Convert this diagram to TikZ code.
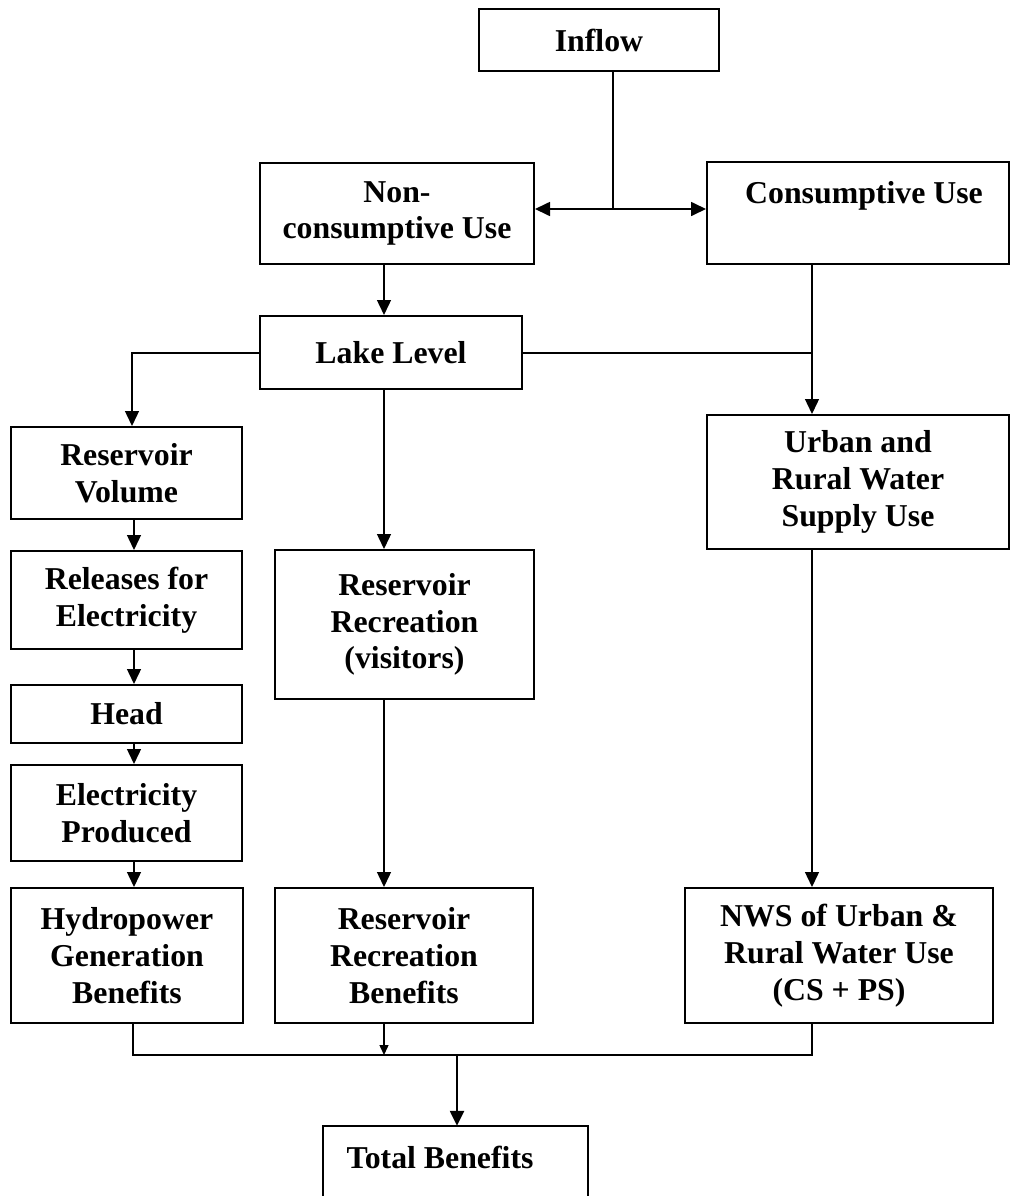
\documentclass[tikz,border=0pt]{standalone}
\usepackage{fontspec}
\setmainfont{Liberation Serif}
\usetikzlibrary{arrows.meta}
\begin{document}
\begin{tikzpicture}[x=1pt,y=-1pt,
  txt/.style={inner sep=0pt, align=center, font=\bfseries\fontsize{31.8}{36.7}\selectfont},
  box/.style={txt, draw, line width=2pt, rectangle},
  conn/.style={line width=1.4pt},
  arr/.style={conn, -{Triangle[length=15pt,width=14pt]}}]
\useasboundingbox (0,0) rectangle (1011,1196);

% boxes
\node[box, minimum width=240pt, minimum height=62pt] (inflow) at (599,40) {Inflow};
\node[box, minimum width=274pt, minimum height=101pt] (noncons) at (397,213.5) {Non-\\consumptive Use};
\node[box, minimum width=302pt, minimum height=102pt] (cons) at (858,213) {};
\node[txt] (constxt) at (864,196) {Consumptive Use};
\node[box, minimum width=262pt, minimum height=73pt] (lake) at (391,352.5) {Lake Level};
\node[box, minimum width=231pt, minimum height=92pt] (resvol) at (126.5,473) {Reservoir\\Volume};
\node[box, minimum width=231pt, minimum height=98pt] (releases) at (126.5,600) {Releases for\\Electricity};
\node[box, minimum width=231pt, minimum height=58pt] (head) at (126.5,714) {Head};
\node[box, minimum width=231pt, minimum height=96pt] (elec) at (126.5,813) {Electricity\\Produced};
\node[box, minimum width=232pt, minimum height=135pt] (hydro) at (127,955.5) {Hydropower\\Generation\\Benefits};
\node[box, minimum width=259pt, minimum height=149pt] (recvis) at (404.5,624.5) {Reservoir\\Recreation\\(visitors)};
\node[box, minimum width=258pt, minimum height=135pt] (recben) at (404,955.5) {Reservoir\\Recreation\\Benefits};
\node[box, minimum width=302pt, minimum height=134pt] (urban) at (858,482) {Urban and\\Rural Water\\Supply Use};
\node[box, minimum width=308pt, minimum height=135pt] (nws) at (839,955.5) {NWS of Urban \&\\Rural Water Use\\(CS + PS)};
\node[inner sep=0pt, minimum width=265pt, minimum height=72pt] (total) at (455.5,1162) {};
\draw[line width=2pt] (total.south west) -- (total.north west) -- (total.north east) -- (total.south east);
\node[txt] (totaltxt) at (440,1157) {Total Benefits};

% helper coordinates
\coordinate (j1) at (613,209);
\coordinate (x1) at (384,0);
\coordinate (j2) at (132,353);
\coordinate (j3) at (812,353);
\coordinate (x2) at (134,0);
\coordinate (b1) at (133,1055);
\coordinate (b2) at (812,1055);
\coordinate (j4) at (457,1055);

% connectors
\draw[conn] (inflow.south -| j1) -- (j1);
\draw[arr, line width=1.7pt] (j1) -- (j1 -| noncons.east);
\draw[arr, line width=1.7pt] (j1) -- (j1 -| cons.west);
\draw[arr] (noncons.south -| x1) -- (lake.north -| x1);
\draw[arr] (lake.west |- j2) -- (j2) -- (resvol.north -| j2);
\draw[conn] (lake.east |- j3) -- (j3);
\draw[arr] (cons.south -| j3) -- (urban.north -| j3);
\draw[arr] (lake.south -| x1) -- (recvis.north -| x1);
\draw[arr] (resvol.south -| x2) -- (releases.north -| x2);
\draw[arr] (releases.south -| x2) -- (head.north -| x2);
\draw[arr] (head.south -| x2) -- (elec.north -| x2);
\draw[arr] (elec.south -| x2) -- (hydro.north -| x2);
\draw[arr] (recvis.south -| x1) -- (recben.north -| x1);
\draw[arr] (urban.south -| j3) -- (nws.north -| j3);
\draw[conn] (hydro.south -| b1) -- (b1) -- (b2) -- (nws.south -| b2);
\draw[conn, -{Triangle[length=10pt,width=9pt]}] (recben.south -| x1) -- (x1 |- b1);
\draw[line width=2.4pt, -{Triangle[length=15pt,width=14pt]}] (j4) -- (total.north -| j4);
\end{tikzpicture}
\end{document}
